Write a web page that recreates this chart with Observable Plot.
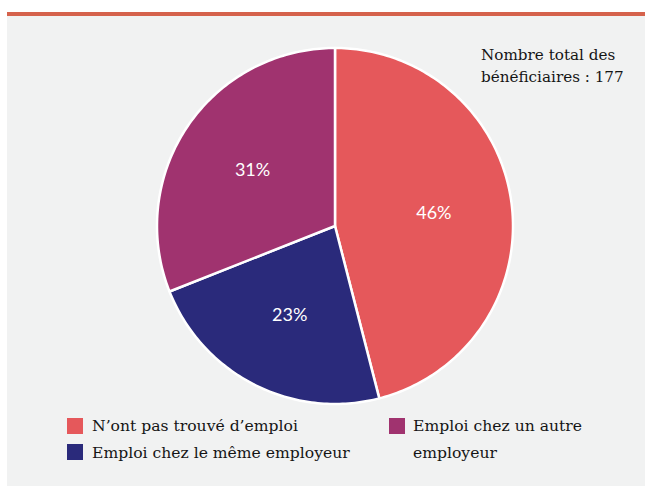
<!DOCTYPE html>
<html>
<head>
<meta charset="utf-8">
<script src="https://cdn.jsdelivr.net/npm/d3@7"></script>
<script src="https://cdn.jsdelivr.net/npm/@observablehq/plot@0.6"></script>
<style>
  html, body { margin: 0; padding: 0; background: #ffffff; }
  #wrap { position: relative; width: 645px; height: 487px; overflow: hidden; }
  #bar { position: absolute; left: 7px; top: 12px; width: 638px; height: 4px; background: #d5624c; }
  #bg { position: absolute; left: 7px; top: 16px; width: 638px; height: 470px; background: #f1f2f2; }
  #chart { position: absolute; left: 0; top: 0; }
  .txt { position: absolute; font-family: "DejaVu Serif", serif; font-size: 15.6px; color: #151515; line-height: 27px; white-space: nowrap; }
  .sw { position: absolute; width: 16px; height: 16px; }
  #note { position: absolute; left: 481px; top: 44px; font-family: "DejaVu Serif", serif; font-size: 15.2px; line-height: 22px; color: #151515; white-space: nowrap; }
</style>
</head>
<body>
<div id="wrap">
  <div id="bar"></div>
  <div id="bg"></div>
  <div id="chart"></div>
  <div id="note"></div>
  <div id="legend"></div>
</div>
<script>
const categories = ["N’ont pas trouvé d’emploi", "Emploi chez le même employeur", "Emploi chez un autre employeur"];
const values = [46, 23, 31];
const colors = ["#e5585b", "#2a2a7b", "#a0336f"];
const noteLines = ["Nombre total des", "bénéficiaires : 177"];

// Pie geometry from data (clockwise from 12 o'clock)
const pie = d3.pie().sort(null).value(d => d.value);
const arcs = pie(categories.map((c, i) => ({cat: c, value: values[i], color: colors[i]})));
const poly = [];
arcs.forEach(a => {
  poly.push({cat: a.data.cat, x: 0, y: 0});
  const n = Math.max(2, Math.ceil((a.endAngle - a.startAngle) / (Math.PI / 180)));
  for (let k = 0; k <= n; k++) {
    const t = a.startAngle + (a.endAngle - a.startAngle) * k / n;
    poly.push({cat: a.data.cat, x: Math.sin(t), y: Math.cos(t)});
  }
});
const labels = arcs.map(a => {
  const m = (a.startAngle + a.endAngle) / 2;
  const r = 0.56;
  return {x: r * Math.sin(m), y: r * Math.cos(m), text: a.data.value + "%"};
});

const cx = 334.5, cy = 225.5, R = 178;
const chart = Plot.plot({
  width: 645, height: 487,
  margin: 0,
  style: {background: "transparent"},
  x: {domain: [-1, 1], range: [cx - R, cx + R], axis: null},
  y: {domain: [-1, 1], range: [cy + R, cy - R], axis: null},
  color: {domain: categories, range: colors},
  marks: [
    Plot.line(poly, {x: "x", y: "y", z: "cat", fill: "cat", stroke: "white", strokeWidth: 2.5, curve: "linear-closed", strokeLinejoin: "round"}),
    Plot.text(labels, {x: "x", y: "y", text: "text", fill: "white", fontSize: 18, fontFamily: "Lato", fontWeight: 400})
  ]
});
document.getElementById("chart").appendChild(chart);

document.getElementById("note").innerHTML = noteLines.join("<br>");

const legendItems = [
  {i: 0, sx: 67, sy: 418, tx: 92, ty: 413, html: categories[0]},
  {i: 1, sx: 67, sy: 444, tx: 92, ty: 440, html: categories[1]},
  {i: 2, sx: 389, sy: 418, tx: 413, ty: 413, html: "Emploi chez un autre<br>employeur"}
];
const lg = document.getElementById("legend");
legendItems.forEach(it => {
  const s = document.createElement("div");
  s.className = "sw";
  s.style.left = it.sx + "px"; s.style.top = it.sy + "px"; s.style.background = colors[it.i];
  lg.appendChild(s);
  const t = document.createElement("div");
  t.className = "txt";
  t.style.left = it.tx + "px"; t.style.top = it.ty + "px";
  t.innerHTML = it.html;
  lg.appendChild(t);
});
</script>
</body>
</html>
